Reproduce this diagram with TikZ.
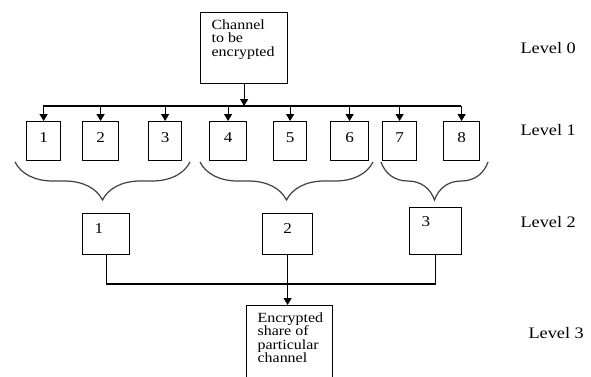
\documentclass[tikz,border=0pt]{standalone}
\usepackage{fontspec}
\setmainfont{Liberation Serif}[FakeStretch=1.14]
\usepackage{tikz}
\usetikzlibrary{arrows.meta, decorations.pathreplacing}
\newcommand{\boxtext}[3]{\parbox[c][#2][t]{#1}{\raggedright #3}}
\tikzset{frame/.style={draw,line width=1.2pt,anchor=north west},
         numbox/.style={draw,line width=1.2pt,anchor=north west,inner sep=0pt,minimum height=39,text depth=8pt,font=\fontsize{15}{17}\selectfont},
         level/.style={anchor=west,font=\fontsize{16}{18}\selectfont},
         arrow/.style={-{Triangle[length=7pt,width=8pt]},line width=1.2pt},
         link/.style={line width=1.2pt},
         brace/.style={decorate,decoration={brace,mirror,amplitude=38pt},line width=1.2pt,black!75}}

\begin{document}
\begin{tikzpicture}[x=1pt,y=-1pt,font=\fontsize{14}{13.5}\selectfont]
    \useasboundingbox (0,0) rectangle (591,376);
    \clip (0,0) rectangle (591,376);
    % level 0
    \node (src) [frame, inner xsep=11pt, inner ysep=7pt] at (200,12) {\boxtext{65pt}{57pt}{Channel\\to be\\encrypted}};
    \coordinate (busL) at (43,106);
    \coordinate (busR) at (461,106);
    \draw[arrow] (src) -- (src |- busL);
    \draw[link] (busL) -- (busR);
    % level 1
    \node (b1) [numbox, minimum width=34] at (26,121) {1};
    \node (b2) [numbox, minimum width=36] at (82,121) {2};
    \node (b3) [numbox, minimum width=33] at (148,121) {3};
    \node (b4) [numbox, minimum width=37] at (209,121) {4};
    \node (b5) [numbox, minimum width=33] at (273,121) {5};
    \node (b6) [numbox, minimum width=38] at (330,121) {6};
    \node (b7) [numbox, minimum width=34] at (382,121) {7};
    \node (b8) [numbox, minimum width=36] at (443,121) {8};
    \foreach \b in {b1,b2,b3,b4,b5,b6,b7,b8} {\draw[arrow] (\b |- busL) -- (\b);}
    \draw[brace] (15,162) -- (190,162);
    \draw[brace] (200,162) -- (373,162);
    \draw[brace] (381,162) -- (488,162);
    % level 2
    \node (m1) [numbox, minimum width=47, minimum height=41, text width=23, align=left, inner xsep=12pt, text depth=11pt] at (82,213) {1};
    \node (m2) [numbox, minimum width=50, minimum height=41, text depth=11pt] at (262,213) {2};
    \node (m3) [numbox, minimum width=52, minimum height=47, text width=28, align=left, inner xsep=12pt, text depth=19pt] at (409,207) {3};
    % level 3
    \node (enc) [frame, inner xsep=11pt, inner ysep=7pt] at (246,305) {\boxtext{64pt}{70pt}{Encrypted\\share of\\particular\\channel}};
    \coordinate (join) at (287,284);
    \draw[link] (m1) |- (join) -| (m3);
    \draw[arrow] (m2.south) -- (m2.south |- enc.north);
    % levels
    \node (lv0) [level] at (517,48) {Level 0};
    \node (lv1) [level] at (517,130) {Level 1};
    \node (lv2) [level] at (517,222) {Level 2};
    \node (lv3) [level] at (525,333) {Level 3};
  \end{tikzpicture}
\end{document}
